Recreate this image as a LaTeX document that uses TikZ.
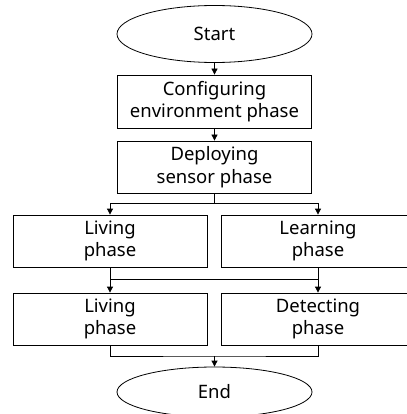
\documentclass[tikz,border=0pt]{standalone}
\usepackage{fontspec}
\setmainfont{Noto Sans}
\usetikzlibrary{arrows.meta,shapes.geometric}
\begin{document}
\begin{tikzpicture}[x=1pt,y=-1pt,
  every node/.style={font=\fontsize{18.5}{22.5}\selectfont, align=center, inner sep=0pt},
  term/.style={draw, ellipse, line width=0.8pt, minimum width=195pt, minimum height=57pt},
  phase/.style={draw, rectangle, line width=0.8pt, minimum width=194pt, minimum height=52pt},
  link/.style={line width=0.8pt},
  arr/.style={line width=0.8pt, -{Triangle[length=6pt,width=6pt]}}]
\useasboundingbox (0,0) rectangle (406,414);
\node[term] (start) at (214.5,34) {Start};
\node[phase, minimum height=53pt] (cfg) at (214.5,101.5) {Configuring\\environment phase};
\node[phase] (dep) at (214.5,167) {Deploying\\sensor phase};
\node[phase] (liv1) at (110,241) {Living\\phase};
\node[phase] (lrn) at (318,241) {Learning\\phase};
\node[phase] (liv2) at (110,319) {Living\\phase};
\node[phase] (det) at (318,319) {Detecting\\phase};
\node[term, minimum height=50pt] (end) at (214.5,392) {End};
\coordinate (j1) at (214.5,203);
\coordinate (j2) at (214.5,279);
\coordinate (j3) at (214.5,356);
\draw[arr] (start) -- (cfg);
\draw[arr] (cfg) -- (dep);
\draw[link] (dep.south) -- (j1);
\draw[arr] (j1) -| (liv1.north);
\draw[arr] (j1) -| (lrn.north);
\draw[arr] (liv1.south) -- (liv2.north);
\draw[arr] (lrn.south) -- (det.north);
\draw[link] (liv1.south |- j2) -- (lrn.south |- j2);
\draw[link] (liv2.south) |- (j3) -| (det.south);
\draw[arr] (j3) -- (end.north);
\end{tikzpicture}
\end{document}
